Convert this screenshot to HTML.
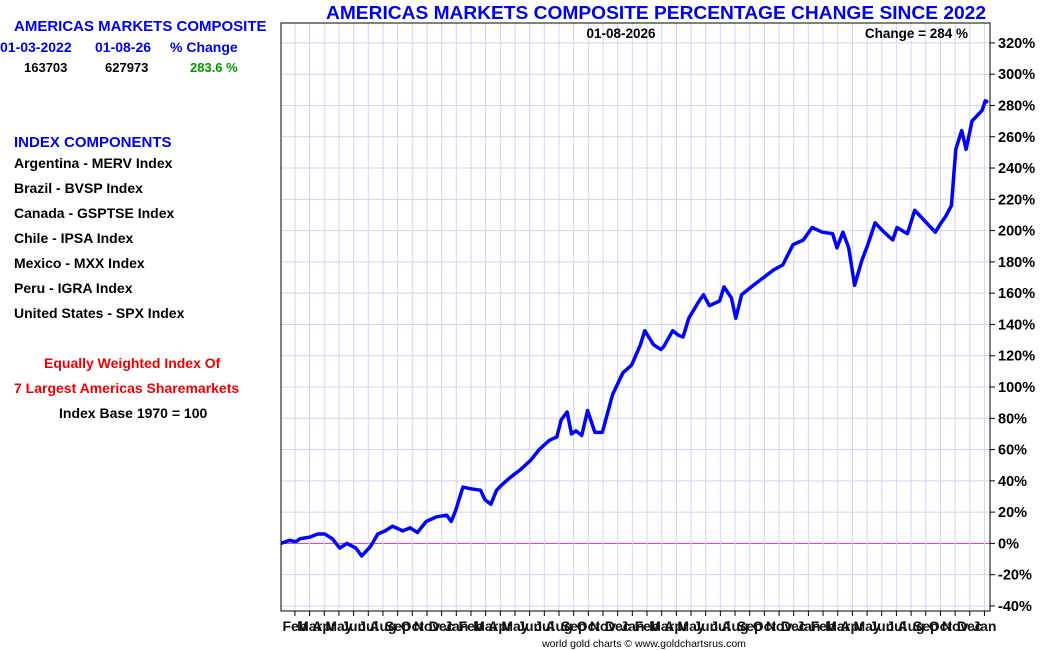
<!DOCTYPE html>
<html><head><meta charset="utf-8"><style>
body{margin:0;width:1050px;height:650px;background:#fff;font-family:"Liberation Sans",Arial,sans-serif;overflow:hidden;position:relative}
.t{position:absolute;font-weight:bold;white-space:nowrap}
</style></head><body>
<div class="t" style="left:14px;top:18px;color:#0000ee;font-size:15px">AMERICAS MARKETS COMPOSITE</div>
<div class="t" style="left:0px;top:39px;color:#0000ee;font-size:14px">01-03-2022</div>
<div class="t" style="left:95px;top:39px;color:#0000ee;font-size:14px">01-08-26</div>
<div class="t" style="left:170px;top:39px;color:#0000ee;font-size:14px">% Change</div>
<div class="t" style="left:24px;top:60px;font-size:13px">163703</div>
<div class="t" style="left:105px;top:60px;font-size:13px">627973</div>
<div class="t" style="left:190px;top:60px;color:#009900;font-size:13px">283.6 %</div>
<div class="t" style="left:14px;top:134px;color:#0000ee;font-size:15px">INDEX COMPONENTS</div>
<div class="t" style="left:14px;top:155px;font-size:14px">Argentina - MERV Index</div>
<div class="t" style="left:14px;top:180px;font-size:14px">Brazil - BVSP Index</div>
<div class="t" style="left:14px;top:205px;font-size:14px">Canada - GSPTSE Index</div>
<div class="t" style="left:14px;top:230px;font-size:14px">Chile - IPSA Index</div>
<div class="t" style="left:14px;top:255px;font-size:14px">Mexico - MXX Index</div>
<div class="t" style="left:14px;top:280px;font-size:14px">Peru - IGRA Index</div>
<div class="t" style="left:14px;top:305px;font-size:14px">United States - SPX Index</div>
<div class="t" style="left:44px;top:355px;color:#ee0000;font-size:14px">Equally Weighted Index Of</div>
<div class="t" style="left:14px;top:380px;color:#ee0000;font-size:14px">7 Largest Americas Sharemarkets</div>
<div class="t" style="left:59px;top:405px;font-size:14px">Index Base 1970 = 100</div>
<svg id="chart" width="1050" height="650" style="position:absolute;left:0;top:0" font-family="Liberation Sans, Arial, sans-serif" font-weight="bold"></svg>
<script>
const monthLabels=["Feb","Mar","Apr","May","Jun","Jul","Aug","Sep","Oct","Nov","Dec","Jan","Feb","Mar","Apr","May","Jun","Jul","Aug","Sep","Oct","Nov","Dec","Jan","Feb","Mar","Apr","May","Jun","Jul","Aug","Sep","Oct","Nov","Dec","Jan","Feb","Mar","Apr","May","Jun","Jul","Aug","Sep","Oct","Nov","Dec","Jan"];
const yTicks=[-40,-20,0,20,40,60,80,100,120,140,160,180,200,220,240,260,280,300,320];
// time in months since 2022-01-03
const times=[0,0.6,1.0,1.3,1.97,2.5,2.98,3.5,4.0,4.5,5.1,5.5,6.1,6.6,7.1,7.6,8.3,8.8,9.3,9.9,10.6,11.3,11.6,11.9,12.4,12.9,13.6,13.9,14.3,14.7,15.0,15.6,16.3,17.0,17.6,18.3,18.8,19.1,19.5,19.8,20.1,20.5,20.9,21.4,21.9,22.6,23.3,23.9,24.5,24.8,25.4,25.9,26.1,26.7,27.1,27.4,27.8,28.5,28.8,29.2,29.9,30.2,30.7,31.0,31.4,32.2,32.9,33.6,34.2,34.9,35.6,36.2,36.9,37.6,37.9,38.3,38.7,39.1,39.6,40.0,40.5,41.0,41.7,42.0,42.7,43.2,43.6,44.1,44.6,45.0,45.3,45.7,46.0,46.4,46.7,47.1,47.4,47.8,48.0,48.2];
const values=[0,2,1,3,4,6,6,3,-3,0,-3,-8,-2,6,8,11,8,10,7,14,17,18,14,21,36,35,34,28,25,34,37,42,47,53,60,66,68,79,84,70,72,69,85,71,71,95,109,114,127,136,127,124,126,136,133,132,144,155,159,152,155,164,157,144,159,165,170,175,178,191,194,202,199,198,189,199,189,165,181,191,205,200,194,202,198,213,209,204,199,205,209,216,252,264,252,270,273,277,283,282];
const svg=document.getElementById('chart');
const NS='http://www.w3.org/2000/svg';
const L=281,R=990,T=23,B=611;
const x=t=>L+t*14.67;
const y=v=>543.4-v*1.564;
function add(tag,attrs,parent){const e=document.createElementNS(NS,tag);for(const k in attrs)e.setAttribute(k,attrs[k]);(parent||svg).appendChild(e);return e;}
yTicks.forEach(v=>{
  const g=add('line',{x1:L,x2:R,y1:y(v),y2:y(v),stroke:v===0?'#cc33cc':'#d4d4f4','stroke-width':1});
  
  
  const tk=add('line',{x1:R,x2:R+5,y1:y(v),y2:y(v),stroke:'#000'});
  
  
  const tx=add('text',{x:R+8,y:y(v)+5,'font-size':14.5,fill:'#000'});
  tx.textContent=v+'%';
  
  
});
monthLabels.forEach((m,i)=>{
  const xx=x(i+0.95);
  const g=add('line',{x1:xx,x2:xx,y1:T,y2:B,stroke:'#d4d4f4'});
  
  
  const tk=add('line',{x1:xx,x2:xx,y1:B,y2:B+5,stroke:'#000'});
  
  
  const tx=add('text',{x:xx,y:631,'font-size':14,'text-anchor':'middle',fill:'#111'});
  tx.textContent=m;
  
  
});
const fr=add('rect',{x:L,y:T,width:R-L,height:B-T,fill:'none',stroke:'#000','stroke-width':1});


const pts=times.map((t,i)=>x(t).toFixed(1)+','+y(values[i]).toFixed(1)).join(' ');
const line=add('polyline',{points:pts,fill:'none',stroke:'#0000ff','stroke-width':3.5,'stroke-linejoin':'round'});


const title=add('text',{x:656,y:19,'font-size':18.5,'text-anchor':'middle',fill:'#0000ee',textLength:660,lengthAdjust:'spacingAndGlyphs'});
title.textContent='AMERICAS MARKETS COMPOSITE PERCENTAGE CHANGE SINCE 2022';


const d=add('text',{x:621,y:38,'font-size':13.5,'text-anchor':'middle',fill:'#000'});
d.textContent='01-08-2026';


const c=add('text',{x:968,y:38,'font-size':13.5,'text-anchor':'end',fill:'#000'});
c.textContent='Change = 284 %';


const f=add('text',{x:644,y:647,'font-size':10.5,'font-weight':'normal','text-anchor':'middle',fill:'#000'});
f.textContent='world gold charts © www.goldchartsrus.com';


</script>
</body></html>
